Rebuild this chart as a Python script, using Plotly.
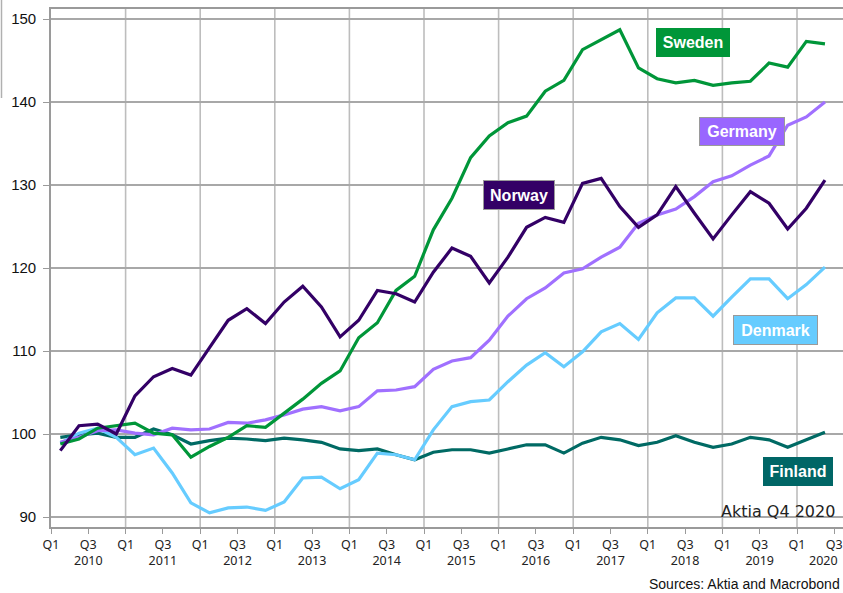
import plotly.graph_objects as go

# ---------------- data ----------------
years = list(range(2010, 2021))
quarters = [f"{y} Q{q}" for y in range(2010, 2021) for q in range(1, 5)][:42]

sweden = [98.8, 99.4, 100.7, 101.0, 101.3, 100.1, 99.9, 97.2, 98.5, 99.6, 101.0,
          100.8, 102.5, 104.2, 106.1, 107.6, 111.6, 113.4, 117.3, 119.0, 124.6,
          128.4, 133.3, 135.9, 137.5, 138.3, 141.3, 142.6, 146.3, 147.5, 148.7,
          144.1, 142.8, 142.3, 142.6, 142.0, 142.3, 142.5, 144.7, 144.2, 147.3, 147.0]
germany = [99.0, 99.6, 100.4, 100.5, 100.1, 99.9, 100.7, 100.5, 100.6, 101.4, 101.3,
           101.7, 102.3, 103.0, 103.3, 102.8, 103.3, 105.2, 105.3, 105.7, 107.8,
           108.8, 109.2, 111.3, 114.2, 116.3, 117.6, 119.4, 119.9, 121.3, 122.5,
           125.4, 126.4, 127.1, 128.6, 130.4, 131.1, 132.4, 133.5, 137.2, 138.2, 140.0]
norway = [98.0, 101.0, 101.2, 100.0, 104.6, 106.9, 107.9, 107.1, 110.4, 113.7, 115.1,
          113.3, 115.9, 117.8, 115.3, 111.7, 113.7, 117.3, 116.9, 115.9, 119.5,
          122.4, 121.4, 118.2, 121.3, 124.9, 126.1, 125.5, 130.2, 130.8, 127.4,
          124.9, 126.4, 129.8, 126.6, 123.5, 126.4, 129.2, 127.8, 124.7, 127.2, 130.6]
denmark = [98.9, 100.1, 100.7, 99.6, 97.5, 98.3, 95.3, 91.7, 90.5, 91.1, 91.2,
           90.8, 91.8, 94.7, 94.8, 93.4, 94.5, 97.7, 97.5, 96.9, 100.5,
           103.3, 103.9, 104.1, 106.3, 108.3, 109.8, 108.1, 109.9, 112.3, 113.3,
           111.4, 114.6, 116.4, 116.4, 114.2, 116.5, 118.7, 118.7, 116.3, 118.0, 120.1]
finland = [99.6, 99.9, 100.1, 99.6, 99.6, 100.6, 99.9, 98.8, 99.2, 99.5, 99.4,
           99.2, 99.5, 99.3, 99.0, 98.2, 98.0, 98.2, 97.5, 96.9, 97.8,
           98.1, 98.1, 97.7, 98.2, 98.7, 98.7, 97.7, 98.9, 99.6, 99.3,
           98.6, 99.0, 99.8, 99.0, 98.4, 98.8, 99.6, 99.3, 98.4, 99.3, 100.2]

y_ticks = [90, 100, 110, 120, 130, 140, 150]

# ---------------- styling ----------------
W, H = 843, 593
ML, MR, MT, MB = 51, 0, 9, 66
PW, PH = W - ML - MR, H - MT - MB

colors = {
    "Sweden": "#009639",
    "Germany": "#a070ff",
    "Norway": "#330066",
    "Denmark": "#66ccff",
    "Finland": "#006a64",
}
series = [("Finland", finland), ("Denmark", denmark), ("Germany", germany),
          ("Sweden", sweden), ("Norway", norway)]

x_pos = [i + 0.5 for i in range(len(quarters))]

fig = go.Figure()
for name, vals in series:
    fig.add_trace(go.Scatter(
        x=x_pos, y=vals, mode="lines", name=name,
        line=dict(color=colors[name], width=3.2),
        hovertext=quarters,
    ))

# x ticks: Q1 / Q3 with year under Q3 (last year placed separately so it fits)
tickvals, ticktext = [], []
for yi, yr in enumerate(years):
    for q in (0, 2):
        v = yi * 4 + q
        if v > 42:
            continue
        tickvals.append(v)
        if q == 0:
            ticktext.append("Q1")
        elif yr == years[-1]:
            ticktext.append("Q3")
        else:
            ticktext.append(f"Q3<br>{yr}")

shapes = []
for yi in range(1, len(years)):
    shapes.append(dict(type="line", xref="x", yref="paper", x0=yi * 4, x1=yi * 4,
                       y0=0, y1=1, line=dict(color="#bdbdbd", width=1.6), layer="below"))
# cut-off frame remnant on the far left
shapes.append(dict(type="line", xref="paper", yref="paper",
                   x0=-49.5 / PW, x1=-49.5 / PW,
                   y0=(PH + MT - 0) / PH, y1=(PH + MT - 98) / PH,
                   line=dict(color="#b0b0b0", width=1.5)))


def px_x(px):
    return (px - ML) / PW


def px_y(py):
    return (MT + PH - py) / PH


label_boxes = [
    ("Sweden", 693, 42.5, 72, 27, colors["Sweden"], colors["Sweden"]),
    ("Germany", 742, 131.5, 84, 27, "#9966ff", "#9a9a9a"),
    ("Norway", 519, 195, 70, 28, "#330066", "#9a9a9a"),
    ("Denmark", 775.5, 330, 83, 28, "#66ccff", "#9a9a9a"),
    ("Finland", 798, 471.5, 68, 27, "#006666", "#006666"),
]
annotations = []
for text, cx, cy, w, h, bg, bc in label_boxes:
    annotations.append(dict(
        text=f"<b>{text}</b>", xref="paper", yref="paper",
        x=px_x(cx), y=px_y(cy), xanchor="center", yanchor="middle",
        showarrow=False, width=w, height=h, bgcolor=bg, bordercolor=bc,
        borderwidth=1, borderpad=0,
        font=dict(family="Liberation Sans, Arial", size=16, color="white"),
    ))

# last year label, nudged left so it stays inside the picture
annotations.append(dict(
    text=str(years[-1]), xref="paper", yref="paper",
    x=px_x(840), y=px_y(560), xanchor="right", yanchor="middle", showarrow=False,
    font=dict(family="Noto Sans", size=12.5, color="#222222"),
))

annotations.append(dict(
    text="Aktia Q4 2020", xref="paper", yref="paper",
    x=px_x(837), y=px_y(511), xanchor="right", yanchor="middle", showarrow=False,
    font=dict(family="DejaVu Sans", size=16, color="#222222"),
))
annotations.append(dict(
    text="Sources: Aktia and Macrobond", xref="paper", yref="paper",
    x=px_x(842), y=px_y(584), xanchor="right", yanchor="middle", showarrow=False,
    font=dict(family="Liberation Sans, Arial", size=14, color="#111111"),
))

fig.update_layout(
    width=W, height=H,
    margin=dict(l=ML, r=MR, t=MT, b=MB, autoexpand=False),
    paper_bgcolor="white", plot_bgcolor="white",
    showlegend=False,
    shapes=shapes,
    annotations=annotations,
    xaxis=dict(
        range=[0, PW / 18.65], tickmode="array", tickvals=tickvals, ticktext=ticktext,
        showgrid=False, zeroline=False, automargin=False,
        ticklabeloverflow="allow",
        showline=True, linecolor="#9a9a9a", linewidth=1.6, mirror=True,
        ticks="outside", ticklen=5, tickcolor="#9a9a9a", tickwidth=1,
        tickfont=dict(family="Noto Sans", size=12.5, color="#222222"),
        fixedrange=True,
    ),
    yaxis=dict(
        range=[150 - (MT + PH - 19) / 8.3, 150 + (19 - MT) / 8.3],
        tickmode="array", tickvals=y_ticks, automargin=False,
        showgrid=True, gridcolor="#a8a8a8", gridwidth=1.6, zeroline=False,
        showline=True, linecolor="#9a9a9a", linewidth=1.6,
        ticks="outside", ticklen=6, tickcolor="#9a9a9a",
        ticklabelstandoff=4,
        tickfont=dict(family="Liberation Sans, Arial", size=15, color="#111111"),
        fixedrange=True,
    ),
)

fig.write_html("out.html", config={"displayModeBar": False},
               post_script="document.body.style.margin='0';")
